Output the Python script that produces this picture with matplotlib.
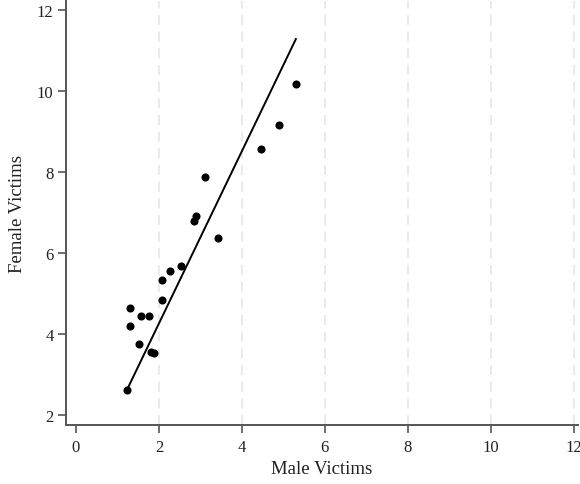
import matplotlib
matplotlib.use("Agg")
import matplotlib.pyplot as plt

# Victim counts (in thousands) per observation
male_victims = [1.23, 1.30, 1.30, 1.57, 1.75, 1.51, 1.80, 1.88, 2.08, 2.08,
                2.26, 2.53, 2.85, 2.90, 3.10, 3.42, 4.46, 4.89, 5.30]
female_victims = [2.62, 4.64, 4.20, 4.45, 4.45, 3.74, 3.55, 3.53, 4.83, 5.34,
                  5.56, 5.68, 6.78, 6.90, 7.88, 6.37, 8.56, 9.15, 10.18]

# Fitted line endpoints
fit_x = [1.23, 5.30]
fit_y = [2.62, 11.28]

x_ticks = [0, 2, 4, 6, 8, 10, 12]
y_ticks = [2, 4, 6, 8, 10, 12]

plt.rcParams['font.family'] = ['Liberation Serif', 'DejaVu Serif']

fig = plt.figure(figsize=(5.8, 4.85), dpi=100)
ax = fig.add_axes([0.1138, 0.1216, 0.8828, 0.8743])

for xv in x_ticks[1:]:
    ax.axvline(xv, color='#e6e6e6', lw=1.2, ls=(0, (6, 4)), zorder=0)

ax.scatter(male_victims, female_victims, s=34, color='black', zorder=3, linewidths=0)
ax.plot(fit_x, fit_y, color='black', lw=1.4, zorder=2)

ax.set_xlim(-0.24, 12.1)
ax.set_ylim(1.75, 12.22)
ax.set_xticks(x_ticks)
ax.set_yticks(y_ticks)

for side in ['top', 'right']:
    ax.spines[side].set_visible(False)
for side in ['left', 'bottom']:
    ax.spines[side].set_color('#555555')
    ax.spines[side].set_linewidth(1.4)

ax.tick_params(axis='both', colors='#555555', width=1.2, length=6, labelsize=12,
               labelcolor='#222222')
ax.tick_params(axis='x', pad=4)
ax.tick_params(axis='y', pad=3)

ax.set_xlabel('Male Victims', fontsize=13.5, color='#222222', labelpad=4)
ax.set_ylabel('Female Victims', fontsize=13.5, color='#222222', labelpad=8)

fig.savefig('out.png', dpi=100)
